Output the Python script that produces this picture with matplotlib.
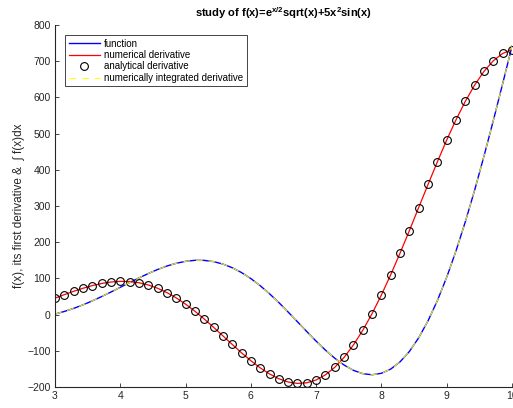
import matplotlib
matplotlib.use("Agg")
import matplotlib.pyplot as plt

plt.rcParams['font.family'] = ['Liberation Sans', 'DejaVu Sans']
plt.rcParams['mathtext.fontset'] = 'custom'
plt.rcParams['mathtext.rm'] = 'Liberation Sans'
plt.rcParams['mathtext.bf'] = 'Liberation Sans:bold'

# sample points (50 points from 3 to 10)
x = [3.000, 3.143, 3.286, 3.429, 3.571, 3.714, 3.857, 4.000, 4.143, 4.286,
     4.429, 4.571, 4.714, 4.857, 5.000, 5.143, 5.286, 5.429, 5.571, 5.714,
     5.857, 6.000, 6.143, 6.286, 6.429, 6.571, 6.714, 6.857, 7.000, 7.143,
     7.286, 7.429, 7.571, 7.714, 7.857, 8.000, 8.143, 8.286, 8.429, 8.571,
     8.714, 8.857, 9.000, 9.143, 9.286, 9.429, 9.571, 9.714, 9.857, 10.000]

# function values
fx = [1.4, 8.6, 17.1, 26.9, 37.8, 49.7, 62.3, 75.3, 88.4, 101.2,
      113.4, 124.5, 134.1, 141.7, 147.1, 149.9, 149.7, 146.3, 139.6, 129.6,
      116.1, 99.5, 79.9, 57.6, 33.2, 7.1, -19.8, -46.9, -73.3, -98.2,
      -120.6, -139.5, -154.0, -163.2, -166.2, -162.2, -150.5, -130.5, -101.8, -64.1,
      -17.3, 38.5, 103.1, 176.1, 256.7, 344.2, 437.5, 535.7, 637.4, 741.3]

# first derivative values
dfx = [45.5, 55.1, 64.3, 72.7, 80.1, 85.9, 90.0, 91.8, 91.2, 87.9,
       81.8, 72.8, 60.8, 46.1, 28.8, 9.3, -12.2, -35.0, -58.6, -82.3,
       -105.5, -127.4, -147.1, -164.0, -177.3, -186.2, -190.1, -188.4, -180.6, -166.4,
       -145.6, -118.1, -84.0, -43.6, 2.7, 54.3, 110.3, 170.0, 232.1, 295.7,
       359.4, 421.9, 482.0, 538.2, 589.3, 634.2, 671.8, 701.1, 721.3, 732.1]

# integrated derivative (same as function to within plotting accuracy)
intfx = fx

xticks = [3, 4, 5, 6, 7, 8, 9, 10]
yticks = [-200, -100, 0, 100, 200, 300, 400, 500, 600, 700, 800]

axcol = '#262626'

fig = plt.figure(figsize=(5.13, 4.08), dpi=100)
ax = fig.add_axes([0.1072, 0.0515, 0.8908, 0.8873])

ax.plot(x, fx, color='blue', lw=1.0, label='function')
ax.plot(x, dfx, color='red', lw=0.9, label='numerical derivative')
ax.plot(x, dfx, 'o', mfc='none', mec='black', ms=5.6, mew=0.8, ls='none',
        label='analytical derivative')
ax.plot(x, intfx, color='yellow', lw=0.7, dashes=(7, 6),
        label='numerically integrated derivative')

ax.set_xlim(3, 10)
ax.set_ylim(-200, 800)
ax.set_xticks(xticks)
ax.set_yticks(yticks)
ax.tick_params(direction='in', length=3, width=0.6, colors=axcol,
               labelsize=7.5, pad=3)
for s in ['top', 'right']:
    ax.spines[s].set_visible(False)
for s in ['left', 'bottom']:
    ax.spines[s].set_color(axcol)
    ax.spines[s].set_linewidth(0.8)

ax.set_title(r'study of f(x)=e$^{\mathbf{x/2}}$sqrt(x)+5x$^{\mathbf{2}}$sin(x)',
             fontsize=8, fontweight='bold', pad=6)
ax.set_ylabel('f(x), its first derivative &  \u222b f(x)dx', fontsize=8.5,
              color=axcol, labelpad=2)

leg = ax.legend(loc='upper left', fontsize=7, labelspacing=0.15,
                handlelength=3.2, handletextpad=0.45, borderpad=0.35,
                borderaxespad=1.05, fancybox=False, framealpha=1)
leg.get_frame().set_edgecolor(axcol)
leg.get_frame().set_linewidth(0.6)

fig.savefig('out.png', dpi=100)
